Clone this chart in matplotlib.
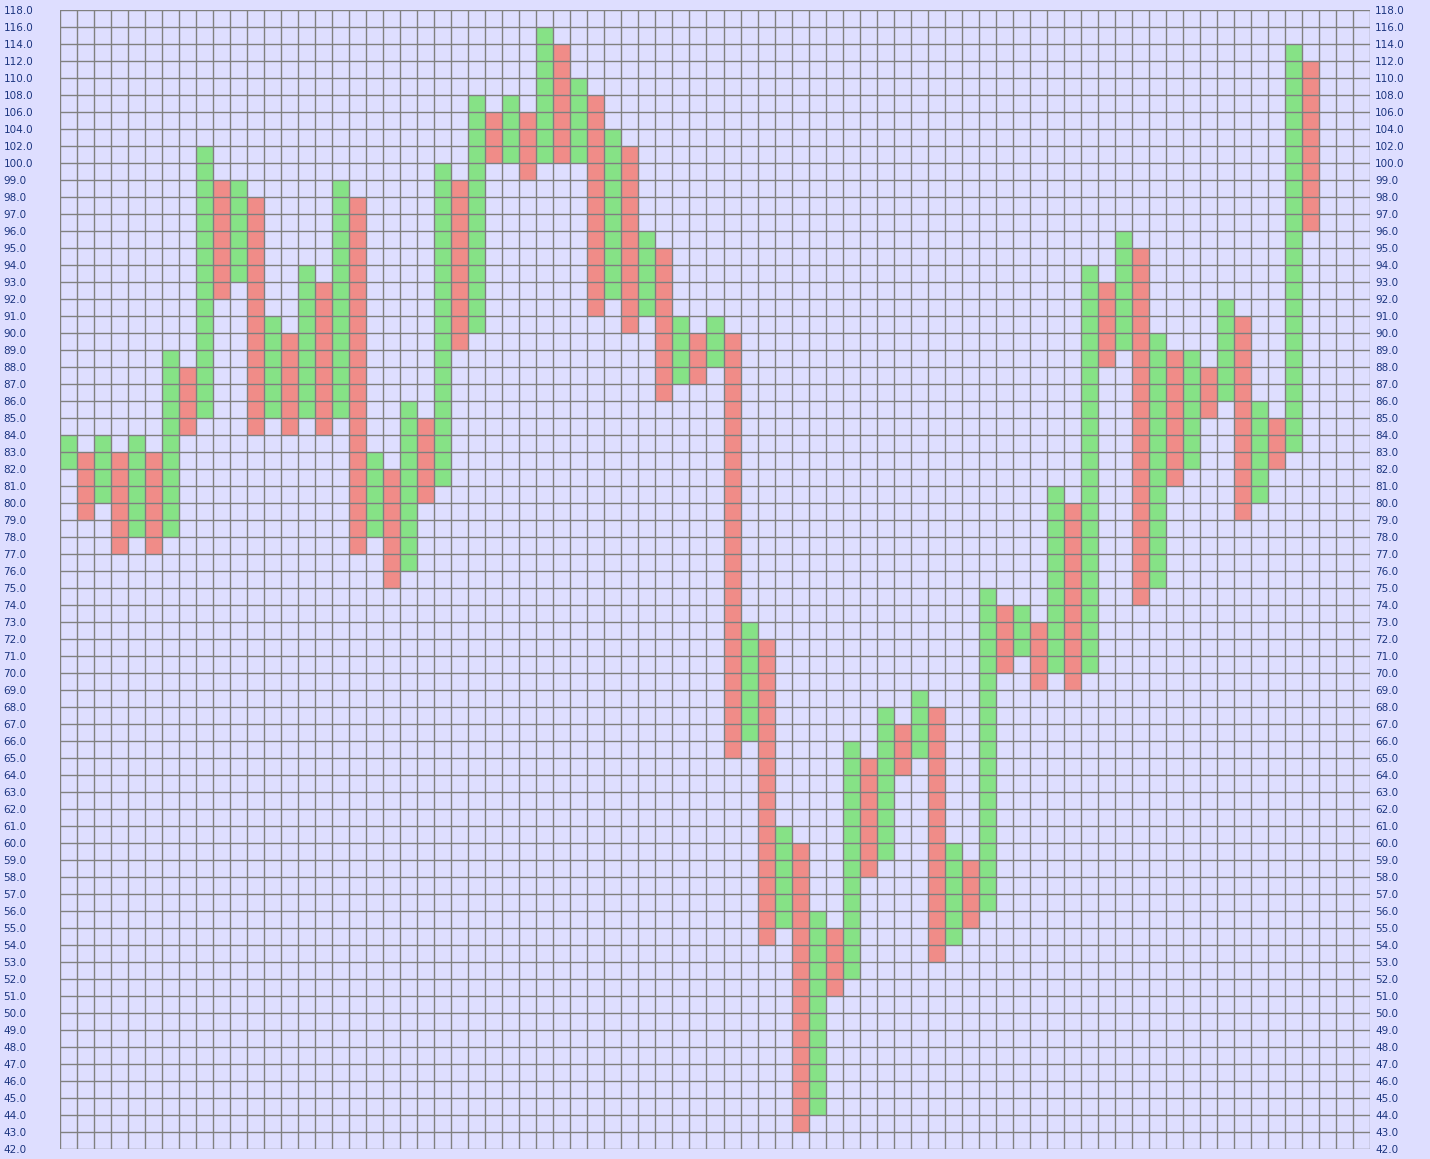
import matplotlib
matplotlib.use('Agg')
import matplotlib.pyplot as plt

# price levels on the y axis (box size 1 below 100, 2 above)
levels = list(range(42, 101)) + list(range(102, 119, 2))

# each column of the chart: low and high of the box stack, up/down alternating (first is up)
col_low = [82, 79, 80, 77, 78, 77, 78, 84, 85, 92, 93, 84, 85, 84, 85, 84, 85, 77, 78, 75,
           76, 80, 81, 89, 90, 100, 100, 99, 100, 100, 100, 91, 92, 90, 91, 86, 87, 87, 88, 65,
           66, 54, 55, 43, 44, 51, 52, 58, 59, 64, 65, 53, 54, 55, 56, 70, 71, 69, 70, 69,
           70, 88, 89, 74, 75, 81, 82, 85, 86, 79, 80, 82, 83, 96]
col_high = [84, 83, 84, 83, 84, 83, 89, 88, 102, 99, 99, 98, 91, 90, 94, 93, 99, 98, 83, 82,
            86, 85, 100, 99, 108, 106, 108, 106, 116, 114, 110, 108, 104, 102, 96, 95, 91, 90, 91, 90,
            73, 72, 61, 60, 56, 55, 66, 65, 68, 67, 69, 68, 60, 59, 75, 74, 74, 73, 81, 80,
            94, 93, 96, 95, 90, 89, 89, 88, 92, 91, 86, 85, 114, 112]
n_cols = 77

up_color = '#86e286'
down_color = '#f08c88'
bg = '#dedeff'
grid_color = '#808080'
text_color = '#1c3580'


def idx(v):
    return levels.index(v)


fig = plt.figure(figsize=(14.30, 11.59), dpi=100)
fig.patch.set_facecolor(bg)
ax = fig.add_axes([60.3 / 1430, (1159 - 1149.3) / 1159, (1369.7 - 60.3) / 1430, (1149.3 - 10.3) / 1159])
ax.set_facecolor(bg)

xs = list(range(len(col_low)))
bottoms = [idx(lo) for lo in col_low]
heights = [idx(hi) - idx(lo) for lo, hi in zip(col_low, col_high)]
colors = [up_color if i % 2 == 0 else down_color for i in xs]
ax.bar(xs, heights, bottom=bottoms, width=1, align='edge', color=colors, linewidth=0, zorder=1)

ax.set_xlim(0, n_cols)
ax.set_ylim(0, len(levels) - 1)

# grid
for x in range(n_cols + 1):
    ax.axvline(x, color=grid_color, lw=1.0, zorder=2)
for y in range(len(levels)):
    ax.axhline(y, color=grid_color, lw=1.0, zorder=2)

for s in ax.spines.values():
    s.set_visible(False)

ax.set_xticks([])
tick_pos = list(range(len(levels)))
tick_lab = ['%.1f' % v for v in levels]
ax.set_yticks(tick_pos)
ax.set_yticklabels(tick_lab, ha='left')
ax.tick_params(axis='y', length=0, pad=41, labelsize=7.5, labelcolor=text_color)

ax2 = ax.twinx()
ax2.set_ylim(ax.get_ylim())
ax2.set_yticks(tick_pos)
ax2.set_yticklabels(tick_lab)
ax2.tick_params(axis='y', length=0, pad=4, labelsize=7.5, labelcolor=text_color)
for s in ax2.spines.values():
    s.set_visible(False)

fig.savefig('out.png', dpi=100, facecolor=bg)
